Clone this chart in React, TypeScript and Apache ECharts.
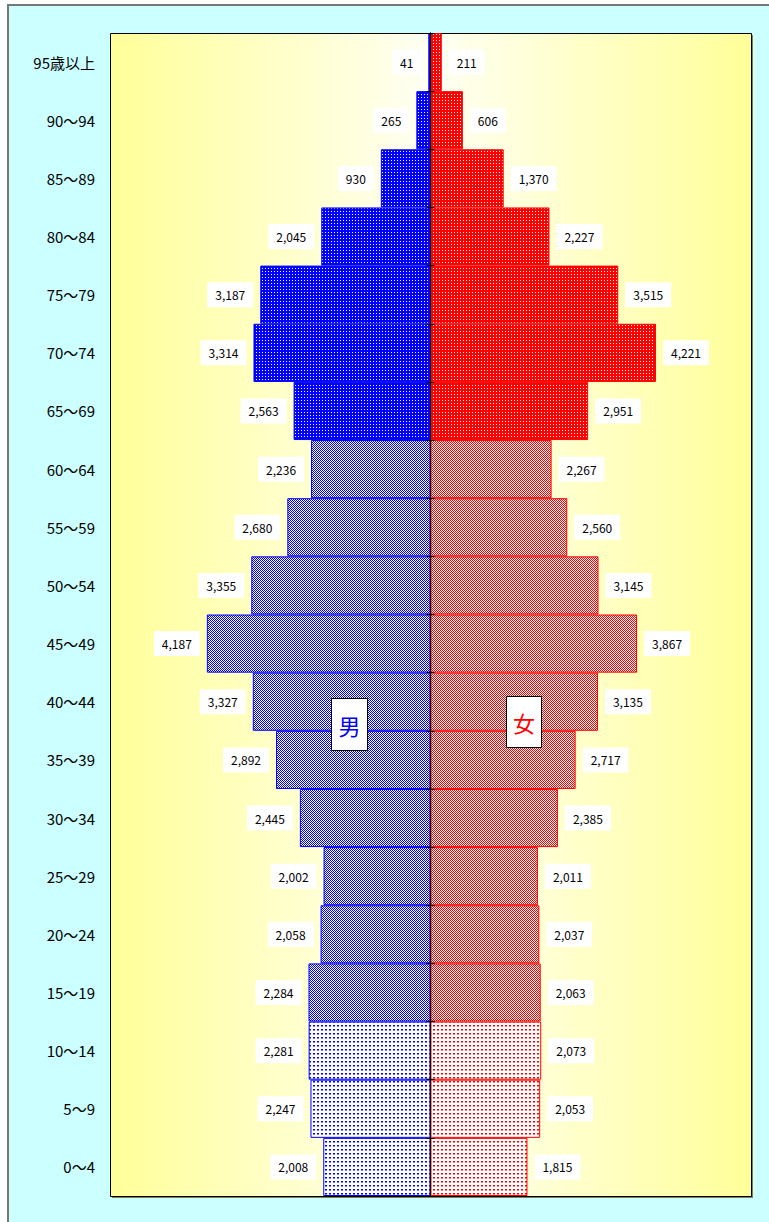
import React, { useEffect, useRef } from "react";
import * as echarts from "echarts";

const categories = [
  "0～4", "5～9", "10～14", "15～19", "20～24", "25～29", "30～34", "35～39",
  "40～44", "45～49", "50～54", "55～59", "60～64", "65～69", "70～74", "75～79",
  "80～84", "85～89", "90～94", "95歳以上",
];
const maleValues = [
  2008, 2247, 2281, 2284, 2058, 2002, 2445, 2892, 3327, 4187,
  3355, 2680, 2236, 2563, 3314, 3187, 2045, 930, 265, 41,
];
const femaleValues = [
  1815, 2053, 2073, 2063, 2037, 2011, 2385, 2717, 3135, 3867,
  3145, 2560, 2267, 2951, 4221, 3515, 2227, 1370, 606, 211,
];
// age group of each category: 0 = young (0-14), 1 = working (15-64), 2 = old (65+)
const ageGroup = [0, 0, 0, 1, 1, 1, 1, 1, 1, 1, 1, 1, 1, 2, 2, 2, 2, 2, 2, 2];

function makeTile(w: number, h: number, bg: string, px: [number, number, string][]) {
  const c = document.createElement("canvas");
  c.width = w;
  c.height = h;
  const ctx = c.getContext("2d")!;
  ctx.fillStyle = bg;
  ctx.fillRect(0, 0, w, h);
  px.forEach(([x, y, col]) => {
    ctx.fillStyle = col;
    ctx.fillRect(x, y, 1, 1);
  });
  return c;
}

function patternsFor(col: string, light: string) {
  const sparse = makeTile(4, 4, "#ffffff", [[1, 1, col], [2, 1, col], [1, 2, light], [2, 2, light]]);
  const checker = makeTile(2, 2, "#ffffff", [[0, 0, col], [1, 1, col]]);
  const dense = makeTile(3, 3, col, [[1, 1, "#ffffff"]]);
  return [sparse, checker, dense].map((img) => ({
    image: img,
    repeat: "repeat",
    imageWidth: img.width,
    imageHeight: img.height,
  }));
}

const fmt = (v: number) => Math.abs(v).toLocaleString("en-US");

export default function App() {
  const ref = useRef<HTMLDivElement>(null);
  useEffect(() => {
    if (!ref.current) return;
    const chart = echarts.init(ref.current, null, { renderer: "svg" });
    const blueP = patternsFor("#0000ff", "#7777ff");
    const redP = patternsFor("#ff0000", "#ff7777");
    const font = "'Noto Sans CJK JP', 'Noto Sans', sans-serif";

    const labelBase = {
      show: true,
      color: "#000",
      fontSize: 12,
      fontFamily: font,
      backgroundColor: "#ffffff",
      padding: [7, 8, 6, 8],
      distance: 7,
    };

    chart.setOption({
      animation: false,
      graphic: [
        {
          type: "rect",
          z: -10,
          shape: { x: 8, y: 5, width: 800, height: 1300 },
          style: { fill: "#ccffff", stroke: "#777777", lineWidth: 2 },
        },
        {
          type: "rect",
          z: -9,
          shape: { x: 112, y: 35, width: 641, height: 1163 },
          style: { fill: "#808050" },
        },
        {
          type: "rect",
          z: -8,
          shape: { x: 110.5, y: 33.5, width: 641, height: 1163 },
          style: {
            fill: new echarts.graphic.LinearGradient(0, 0, 1, 0, [
              { offset: 0, color: "#ffff99" },
              { offset: 0.5, color: "#fffff4" },
              { offset: 1, color: "#ffff99" },
            ]),
            stroke: "#000000",
            lineWidth: 1,
          },
        },
        {
          type: "rect",
          z: 100,
          shape: { x: 331.5, y: 698.5, width: 36, height: 52 },
          style: { fill: "#ffffff", stroke: "#000000", lineWidth: 1 },
        },
        {
          type: "text",
          z: 101,
          x: 349.5,
          y: 724.5,
          style: {
            text: "男",
            fill: "#0000ff",
            font: `22px ${font}`,
            textAlign: "center",
            textVerticalAlign: "middle",
          },
        },
        {
          type: "rect",
          z: 100,
          shape: { x: 506.5, y: 696.5, width: 35, height: 51 },
          style: { fill: "#ffffff", stroke: "#000000", lineWidth: 1 },
        },
        {
          type: "text",
          z: 101,
          x: 524,
          y: 722,
          style: {
            text: "女",
            fill: "#ff0000",
            font: `22px ${font}`,
            textAlign: "center",
            textVerticalAlign: "middle",
          },
        },
      ],
      grid: { left: 110, right: 18, top: 33, bottom: 26, containLabel: false },
      xAxis: {
        type: "value",
        min: -6000,
        max: 6000,
        axisLine: { show: false },
        axisTick: { show: false },
        axisLabel: { show: false },
        splitLine: { show: false },
      },
      yAxis: [
        {
          type: "category",
          data: categories,
          position: "left",
          axisLine: { show: false, onZero: false },
          axisTick: { show: false },
          axisLabel: { color: "#000", fontSize: 15, fontFamily: font, margin: 15 },
        },
        {
          type: "category",
          data: categories,
          position: "left",
          axisLine: { show: true, onZero: true, onZeroAxisIndex: 0, lineStyle: { color: "#000", width: 1 } },
          axisTick: { show: true, length: 4, lineStyle: { color: "#000" } },
          axisLabel: { show: false },
          z: 10,
        },
        {
          type: "category",
          data: categories,
          position: "right",
          axisLine: { show: true, onZero: true, onZeroAxisIndex: 0, lineStyle: { color: "#000", width: 1 } },
          axisTick: { show: true, length: 4, lineStyle: { color: "#000" } },
          axisLabel: { show: false },
          z: 10,
        },
      ],
      series: [
        {
          name: "男",
          type: "bar",
          yAxisIndex: 0,
          barGap: "-100%",
          barCategoryGap: 0,
          data: maleValues.map((v, i) => ({
            value: -v,
            itemStyle: { color: blueP[ageGroup[i]], borderColor: "#0000ff", borderWidth: 1 },
          })),
          label: { ...labelBase, position: "left", formatter: (p: any) => fmt(p.value) },
        },
        {
          name: "女",
          type: "bar",
          yAxisIndex: 0,
          barGap: "-100%",
          barCategoryGap: 0,
          data: femaleValues.map((v, i) => ({
            value: v,
            itemStyle: { color: redP[ageGroup[i]], borderColor: "#ff0000", borderWidth: 1 },
          })),
          label: { ...labelBase, position: "right", formatter: (p: any) => fmt(p.value) },
        },
      ],
    });
    return () => chart.dispose();
  }, []);
  return (
    <div
      ref={ref}
      style={{ position: "absolute", left: 0, top: 0, width: 769, height: 1222 }}
    />
  );
}
